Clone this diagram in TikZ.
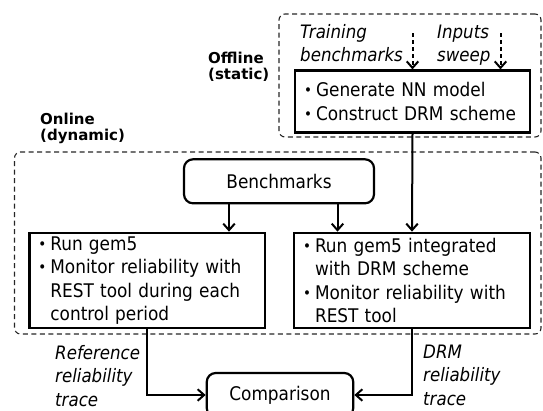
\documentclass[tikz,border=0pt]{standalone}
\usepackage{fontspec}
\setmainfont{DejaVu Sans Condensed}
\newfontfamily\phasefont{DejaVu Sans}
\usetikzlibrary{arrows.meta}

% small bullet with a hanging indent for the list-like boxes
\newcommand\bul{\makebox[12pt][l]{{\fontsize{15}{0}\selectfont\raisebox{0.8pt}{•}}}}
\newcommand\ind{\hspace*{12pt}}

\tikzset{
  maintext/.style={font=\fontsize{18.8}{23.5}\selectfont},
  solidbox/.style={draw, line width=2.2pt, maintext, inner xsep=9pt, inner ysep=0pt},
  listbox/.style={solidbox, align=left},
  roundbox/.style={solidbox, rounded corners=9pt},
  dashbox/.style={draw=black!85, line width=1.1pt, dash pattern=on 5pt off 3.5pt, rounded corners=6pt},
  arr/.style={line width=2pt, -{Straight Barb[length=6.5pt,width=11.5pt]}},
  dasharr/.style={arr, dash pattern=on 4pt off 3pt},
  caption/.style={font=\itshape\fontsize{18.5}{23.5}\selectfont, align=left, inner sep=0pt, anchor=base west},
  phase/.style={font=\phasefont\bfseries\fontsize{15}{16.5}\selectfont, align=left, inner sep=0pt, anchor=base west},
}

\begin{document}
\begin{tikzpicture}[x=1pt,y=-1pt]
\useasboundingbox (0,0) rectangle (543,410);

% phase containers
\node[dashbox, minimum width=262pt, minimum height=123pt] (offline) at (410,75.5) {};
\node[dashbox, minimum width=526.5pt, minimum height=182pt] (online) at (277.75,243) {};

% labels are placed by the baseline of their last line
\node[phase] (offlbl) at (208,79.5) {Offline\\(static)};
\node[phase] (onlbl) at (40,140.5) {Online\\(dynamic)};

% offline stage
\node[listbox, minimum width=235pt, minimum height=62pt, text width=217pt] (nn) at (412.5,101.5)
  {\bul Generate NN model\\\bul Construct DRM scheme};

\node[caption] (train) at (300,61.5) {Training\\benchmarks};
\node[caption] (sweep) at (437,61.5) {Inputs\\sweep};
\coordinate (trainsrc) at (412.5,33);
\coordinate (sweepsrc) at (500.5,33);
\draw[dasharr] (trainsrc) -- (nn.north);
\draw[dasharr] (sweepsrc) -- (sweepsrc |- nn.north);

% online stage
\node[roundbox, minimum width=190pt, minimum height=44pt] (bench) at (279,181.3) {Benchmarks};

\node[listbox, minimum width=235.6pt, minimum height=95.5pt, text width=217.6pt] (ref) at (147.2,280.5)
  {\bul Run gem5\\\bul Monitor reliability with\\\ind REST tool during each\\\ind control period};
\node[listbox, minimum width=236pt, minimum height=95.5pt, text width=218pt] (drm) at (412,280.5)
  {\bul Run gem5 integrated\\\ind with DRM scheme\\\bul Monitor reliability with\\\ind REST tool};

\draw[arr] ([xshift=-50pt]bench.south) -- ([xshift=-50pt]bench.south |- ref.north);
\draw[arr] ([xshift=58.5pt]bench.south) -- ([xshift=58.5pt]bench.south |- drm.north);
\draw[arr] (nn.south) -- (drm.north);

% comparison
\node[roundbox, minimum width=146.5pt, minimum height=44pt] (cmp) at (280,395) {Comparison};
\draw[arr] (ref.south) |- (cmp.west);
\draw[arr] (drm.south) |- (cmp.east);

\node[caption] (reflbl) at (55,406) {Reference\\reliability\\trace};
\node[caption] (drmlbl) at (423,405) {DRM\\reliability\\trace};
\end{tikzpicture}
\end{document}
